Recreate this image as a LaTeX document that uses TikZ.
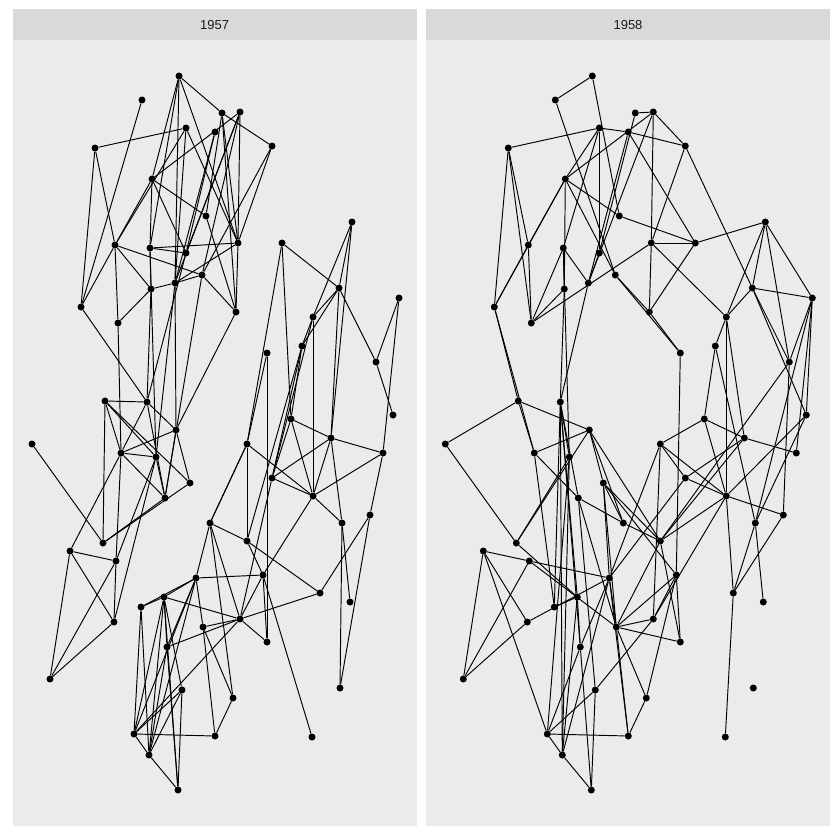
\documentclass[tikz,border=0pt]{standalone}
\usepackage{fontspec}
\setmainfont{Liberation Sans}
\definecolor{stripbg}{HTML}{D9D9D9}
\definecolor{panelbg}{HTML}{EBEBEB}
\definecolor{striptxt}{HTML}{1A1A1A}
\begin{document}
\begin{tikzpicture}[x=1pt,y=-1pt,
  dot/.style={circle,fill=black,inner sep=0pt,minimum size=7pt},
  edge/.style={line width=0.95pt,black},
  striplabel/.style={font=\fontsize{13}{13}\selectfont,text=striptxt}]
\fill[white] (0,0) rectangle (840,840);
\useasboundingbox (0,0) rectangle (840,840);
% panels
\fill[stripbg] (12.7,9) rectangle (416.7,40);
\fill[panelbg] (12.7,40) rectangle (416.7,825.7);
\fill[stripbg] (426,9) rectangle (830,40);
\fill[panelbg] (426,40) rectangle (830,825.7);
\node[striplabel] (t1) at (214.7,25) {1957};
\node[striplabel] (t2) at (628,25) {1958};
% nodes (same layout in both panels)
\foreach \n/\x/\y in {a1/179/76,a2/142/100,a3/222/113,a4/240/112,a5/186/128,a6/215/132,
 a7/95/148,a8/272/146,a9/152/179,a10/206/216,a11/115/245,a12/150/248,a13/186/253,
 a14/238/243,a15/202/275,a16/175/283,a17/151/289,a18/81/307,a19/236/312,a20/118/323,
 b1/105/401,b2/147/402,b3/176/430,b4/121/453,b5/156/457,b6/190/483,b7/165/498,
 b8/103/543,b9/70/551,b10/116/561,b11/114/622,b12/50/679,b13/32/444,
 c1/282/243,c2/352/222,c3/339/288,c4/399/298,c5/313/317,c6/302/346,c7/267/353,
 c8/376/362,c9/393/415,c10/291/419,c11/331/438,c12/383/453,c13/247/444,c14/272/478,
 c15/313/496,c16/370/515,c17/342/523,c18/210/523,c19/247/541,
 d1/263/575,d2/196/578,d3/320/593,d4/350/602,d5/141/607,d6/164/597,d7/240/619,
 d8/203/627,d9/267/642,d10/167/647,d11/182/690,d12/233/698,d13/340/688,d14/134/734,
 d15/215/736,d16/312/737,d17/149/755,d18/178/790}{
  \node[dot] (L-\n) at (\x,\y) {};
  \node[dot] (R-\n) at ({\x+413.3},\y) {};
}
% 1957 edges
\foreach \u/\v in {a1/a3,a3/a8,a1/a16,a1/a12,a1/a14,a2/a18,a7/a5,a7/a18,a7/a11,a5/a11,
 a5/a14,a9/a4,a9/a10,a9/a12,a12/a17,a9/a13,a9/a11,a12/a13,a12/a14,a11/a15,a11/a17,
 a11/a20,a11/a18,a17/a20,a17/a16,a16/a15,a15/a19,a14/a4,a14/a8,a14/a16,a3/a19,a19/b3,
 a6/a16,a4/a13,a6/a13,a4/a15,a8/a15,a18/b2,a3/a14,a10/a19,a4/a16,a1/a9,a5/a16,a3/a10,
 c1/c3,c1/c10,c1/c13,
 b13/b8,b1/b2,b1/b4,b1/b8,b1/b5,b1/b6,a20/b4,b4/b10,b2/a17,b2/b4,b2/b3,b2/b7,a16/b3,
 b3/b4,b3/b6,b3/b7,b4/b5,b4/b7,b4/b9,b5/b7,b8/b6,b8/b7,b10/b5,b9/b10,b9/b11,b9/b12,
 b10/b11,b10/b12,b11/b12,b11/b5,a13/b2,a15/b7,a16/b5,a12/b5,
 c18/c13,c18/d2,d2/d6,d2/d5,d5/d6,d2/d8,d2/d10,
 c2/c5,c2/c11,c2/c3,c3/c5,c3/c8,c3/c11,c3/c6,c4/c8,c4/c12,c8/c9,c5/c15,c5/c6,c5/c14,
 c6/c10,c6/c14,c6/c19,c7/d9,c7/c13,c10/c11,c10/c14,c10/c15,c11/c12,c11/c14,c11/c15,
 c11/c17,c12/c15,c12/c16,c13/c15,c13/c18,c13/c19,c14/c15,c15/c17,c18/c19,a14/a19,
 c18/d7,c18/d12,c19/d3,c19/d1,c17/d4,c17/d13,c16/d3,c16/d13,d1/d2,d1/d9,d1/d7,d3/d7,
 d2/d14,d6/d7,d6/d10,d6/d14,d7/d8,d7/d9,d7/d10,d7/d14,d8/d15,d8/d12,d10/d17,d10/d18,
 d11/d14,d11/d17,d12/d15,d14/d15,d14/d17,d17/d18,d6/d18,d11/d18,d16/d1,d5/d14,d5/d17,
 d6/d11,c15/d1,c14/d7,d6/d17,d2/d17}{
  \draw[edge] (L-\u) -- (L-\v);
}
% 1958 edges
\foreach \u/\v in {a1/a2,a1/a10,a2/a15,a7/a5,a5/a6,a6/a8,a5/a13,a5/a9,a9/a4,a9/a10,
 a9/a15,a9/a17,a9/a18,a7/a18,a7/a11,a7/a20,a11/a20,a11/a18,a11/a9,a12/a17,a12/a16,
 a12/a5,a20/a17,a20/a14,a20/a12,a16/a4,a16/a6,a16/a13,a15/a19,a14/a4,a14/a19,a14/a8,
 a14/c1,a10/c1,c1/a19,a3/a4,a4/a8,a3/a13,a6/c1,a8/c3,a15/c7,a17/b2,a12/b5,b2/a16,
 c1/c2,c2/c3,c2/c5,c2/c4,c2/c8,c3/c4,c3/c5,c3/c8,c3/c9,c4/c8,c4/c9,c4/c12,a14/c5,
 a19/c7,c5/c6,c5/c15,c5/c11,c6/c10,c6/c17,c7/d1,c10/c11,c10/c13,c10/c15,c11/c12,
 c11/c14,c11/c19,c8/c19,c9/c15,c13/c14,c13/c15,c14/c15,c15/c16,c15/d7,c16/d3,c17/d4,
 c19/c15,c8/c16,c4/c17,c9/c17,c15/d3,c17/d3,
 b13/b1,b13/b8,b1/b3,a18/b1,a18/b4,b1/b4,b4/d5,b2/b7,b2/d6,b3/b4,b3/c18,b3/b6,b3/b8,
 b4/b7,b6/c18,b6/c19,b6/d2,b6/d1,b7/c18,c18/c19,c13/d2,b9/b10,b10/d2,b8/b5,d5/d6,
 b9/b12,b9/b11,b9/d14,b10/b12,b8/d6,b12/b11,b11/d2,d2/d8,d2/d10,d2/d17,d8/d7,d8/d9,
 d8/c19,d8/d12,d8/d15,d1/d9,d1/d12,d1/d8,d1/d7,d16/d3,d14/d15,d14/d17,d14/d11,
 d17/d18,d18/d11,d15/d12,d15/d2,d6/d10,d10/d18,d10/d14,d6/d17,d11/d7,b10/d8,b2/b5,
 b3/c19,b6/d8,c13/d7,c14/d2,c19/d9,b7/d8,b2/d10,b2/d5,b2/d17,b5/d14,b7/d11,b5/d17}{
  \draw[edge] (R-\u) -- (R-\v);
}
\end{tikzpicture}
\end{document}
